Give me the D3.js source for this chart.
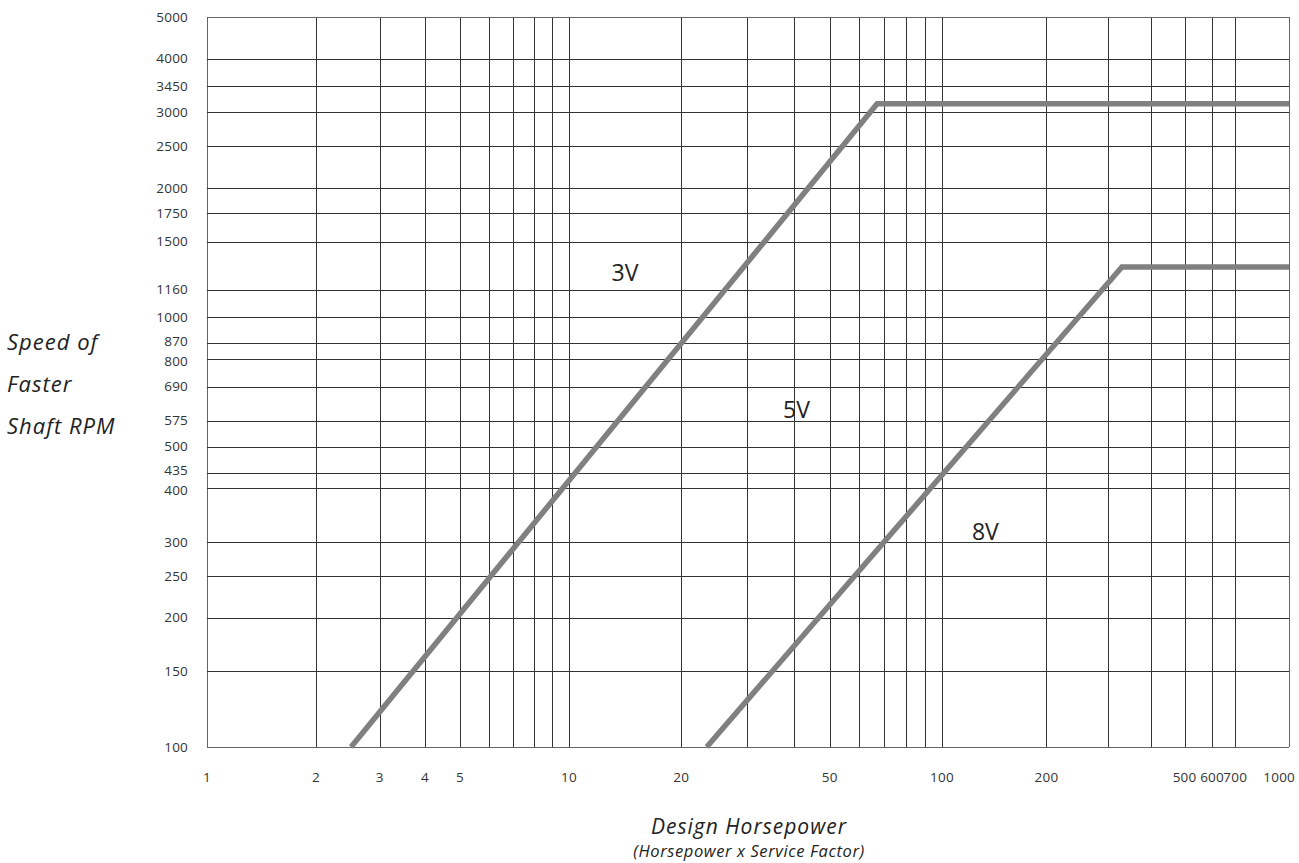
<!DOCTYPE html>
<html>
<head>
<meta charset="utf-8">
<script src="https://cdn.jsdelivr.net/npm/d3@7"></script>
<style>
  body { margin: 0; background: #fff; }
  svg { display: block; }
  text { font-family: "Open Sans", "Noto Sans", sans-serif; }
</style>
</head>
<body>
<div id="chart"></div>
<script>
// grid / tick values
const xGrid = [1, 2, 3, 4, 5, 6, 7, 8, 9, 10, 20, 30, 40, 50, 60, 70, 80, 90, 100, 200, 300, 400, 500, 600, 700, 1000];
const xLabels = [1, 2, 3, 4, 5, 10, 20, 50, 100, 200, 500, 600, 700, 1000];
const yGrid = [100, 150, 200, 250, 300, 400, 435, 500, 575, 690, 800, 870, 1000, 1160, 1500, 1750, 2000, 2500, 3000, 3450, 4000, 5000];

// belt section limits: [horsepower, rpm]
const hp3V = [2.5, 67, 1000];
const rpm3V = [100, 3140, 3140];
const hp8V = [23.4, 330, 1000];
const rpm8V = [100, 1310, 1310];

const sections = ['3V', '5V', '8V'];
const sectionHp = [13, 37.5, 122];
const sectionRpm = [1215, 583, 303];

const width = 1299, height = 863;
const margin = { top: 17, left: 207, right: 10, bottom: 116 };

const svg = d3.select('#chart').append('svg')
    .attr('width', width)
    .attr('height', height);

// the printed decades are not quite equal, so anchor each decade
const x = d3.scaleLog()
    .domain([1, 10, 100, 1000])
    .range([margin.left, 569, 942, width - margin.right]);
const y = d3.scaleLog()
    .domain([100, 5000])
    .range([height - margin.bottom, margin.top]);

const px = v => Math.round(v) + 0.5;

// grid
const grid = svg.append('g').attr('class', 'grid').attr('shape-rendering', 'crispEdges');
grid.selectAll('.vline').data(xGrid).enter().append('line')
    .attr('class', 'vline')
    .attr('x1', d => px(x(d))).attr('x2', d => px(x(d)))
    .attr('y1', y(5000)).attr('y2', y(100))
    .attr('stroke', (d, i) => (i == 0 || i == xGrid.length - 1) ? '#666' : '#333')
    .attr('stroke-width', (d, i) => (i == 0 || i == xGrid.length - 1) ? 1.5 : 1);
grid.selectAll('.hline').data(yGrid).enter().append('line')
    .attr('class', 'hline')
    .attr('y1', d => px(y(d))).attr('y2', d => px(y(d)))
    .attr('x1', x(1)).attr('x2', x(1000))
    .attr('stroke', (d, i) => (i == 0 || i == yGrid.length - 1) ? '#666' : '#333')
    .attr('stroke-width', (d, i) => (i == 0 || i == yGrid.length - 1) ? 1.5 : 1);

// tick labels (870/800 and 435/400 sit close, nudge them apart a little)
const nudge = { 870: -2, 800: 2, 435: -2, 400: 2 };
svg.append('g').selectAll('text').data(yGrid).enter().append('text')
    .attr('x', 188)
    .attr('y', d => y(d) + (nudge[d] || 0))
    .attr('dy', '0.35em')
    .attr('text-anchor', 'end')
    .attr('font-size', 13.5)
    .attr('letter-spacing', 0.2)
    .attr('fill', '#333')
    .text(d => d);

svg.append('g').selectAll('text').data(xLabels).enter().append('text')
    .attr('x', d => d == 1000 ? x(d) + 6 : x(d))
    .attr('y', 782)
    .attr('text-anchor', d => d == 1000 ? 'end' : 'middle')
    .attr('font-size', 13.5)
    .attr('letter-spacing', 0.2)
    .attr('fill', '#333')
    .text(d => d);

// belt section lines
const line = d3.line().x(d => x(d[0])).y(d => y(d[1]));
const lines = [d3.zip(hp3V, rpm3V), d3.zip(hp8V, rpm8V)];
svg.append('g').selectAll('path').data(lines).enter().append('path')
    .attr('d', line)
    .attr('fill', 'none')
    .attr('stroke', '#808080')
    .attr('stroke-width', 5.5);

// section names
svg.append('g').selectAll('text').data(sections).enter().append('text')
    .attr('x', (d, i) => x(sectionHp[i]))
    .attr('y', (d, i) => y(sectionRpm[i]))
    .attr('font-size', 23)
    .attr('fill', '#222')
    .text(d => d);

// axis titles
const yTitle = svg.append('text')
    .attr('font-size', 22)
    .attr('font-style', 'italic')
    .attr('letter-spacing', 1)
    .attr('fill', '#222');
['Speed of', 'Faster', 'Shaft RPM'].forEach((t, i) => {
    yTitle.append('tspan').attr('x', 7).attr('y', 350 + i * 42).text(t);
});

svg.append('text')
    .attr('x', 749).attr('y', 834)
    .attr('text-anchor', 'middle')
    .attr('font-size', 21)
    .attr('font-style', 'italic')
    .attr('letter-spacing', 1)
    .attr('fill', '#222')
    .text('Design Horsepower');
svg.append('text')
    .attr('x', 749).attr('y', 857)
    .attr('text-anchor', 'middle')
    .attr('font-size', 16.5)
    .attr('font-style', 'italic')
    .attr('letter-spacing', 0.6)
    .attr('fill', '#222')
    .text('(Horsepower x Service Factor)');
</script>
</body>
</html>
